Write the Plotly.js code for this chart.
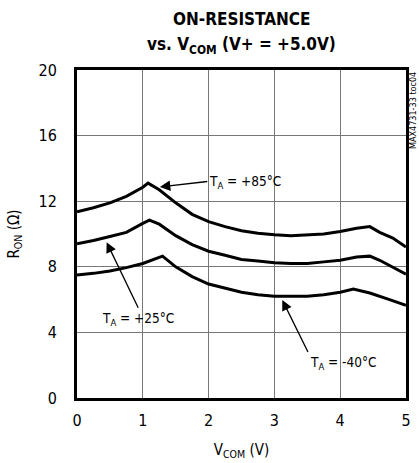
<!DOCTYPE html>
<html><head><meta charset="utf-8">
<script src="https://cdn.plot.ly/plotly-3.0.1.min.js"></script>
<style>body{margin:0;background:#fff}#chart{width:419px;height:463px}</style>
</head><body><div id="chart"></div>
<script>
const vcom85 = [0, 0.25, 0.5, 0.75, 1.0, 1.08, 1.25, 1.5, 1.75, 2.0, 2.25, 2.5, 2.75, 3.0, 3.25, 3.5, 3.75, 4.0, 4.25, 4.45, 4.6, 4.8, 5.0];
const ron85  = [11.35, 11.6, 11.9, 12.3, 12.85, 13.1, 12.7, 11.9, 11.2, 10.75, 10.45, 10.2, 10.05, 9.95, 9.9, 9.95, 10.0, 10.15, 10.35, 10.45, 10.1, 9.75, 9.2];
const vcom25 = [0, 0.25, 0.5, 0.75, 1.0, 1.1, 1.25, 1.5, 1.75, 2.0, 2.25, 2.5, 2.75, 3.0, 3.25, 3.5, 3.75, 4.0, 4.25, 4.45, 4.6, 4.8, 5.0];
const ron25  = [9.4, 9.6, 9.85, 10.1, 10.65, 10.85, 10.6, 9.9, 9.35, 8.95, 8.7, 8.45, 8.35, 8.25, 8.2, 8.2, 8.3, 8.4, 8.6, 8.65, 8.4, 8.0, 7.55];
const vcomM40 = [0, 0.25, 0.5, 0.75, 1.0, 1.25, 1.3, 1.5, 1.75, 2.0, 2.25, 2.5, 2.75, 3.0, 3.25, 3.5, 3.75, 4.0, 4.2, 4.45, 4.75, 5.0];
const ronM40  = [7.5, 7.6, 7.75, 7.95, 8.2, 8.55, 8.65, 8.0, 7.4, 6.95, 6.7, 6.45, 6.3, 6.2, 6.2, 6.2, 6.3, 6.45, 6.65, 6.4, 6.0, 5.65];
const xTicks = [0, 1, 2, 3, 4, 5];
const yTicks = [0, 4, 8, 12, 16, 20];
const labels = ['T<sub>A</sub> = +85°C', 'T<sub>A</sub> = +25°C', 'T<sub>A</sub> = -40°C'];
const titleLines = ['<b>ON-RESISTANCE</b>', '<b>vs. V<sub>COM</sub> (V+ = +5.0V)</b>'];

const F = 'DejaVu Sans Condensed, Liberation Sans, sans-serif';
const line = {color: '#000', width: 3};
const traces = [
  {x: vcom85, y: ron85, mode: 'lines', line: line, showlegend: false},
  {x: vcom25, y: ron25, mode: 'lines', line: line, showlegend: false},
  {x: vcomM40, y: ronM40, mode: 'lines', line: line, showlegend: false}
];
const ann = (text, x, y, ax, ay, xanchor, yanchor) => ({
  x: x, y: y, ax: ax, ay: ay, axref: 'x', ayref: 'y', xref: 'x', yref: 'y',
  text: text, showarrow: true, arrowhead: 2, arrowsize: 1.6, arrowwidth: 1.3, arrowcolor: '#000',
  xanchor: xanchor, yanchor: yanchor, standoff: 0, startstandoff: 0,
  font: {family: F, size: 13.5, color: '#000'}
});
const layout = {
  width: 419, height: 463,
  margin: {l: 77, r: 13, t: 70, b: 65},
  paper_bgcolor: '#fff', plot_bgcolor: '#fff',
  font: {family: F, size: 16, color: '#000'},
  xaxis: {range: [0, 5], tickvals: xTicks, ticks: '', showgrid: true, gridcolor: '#777', gridwidth: 1,
          zeroline: false, showline: true, linecolor: '#000', linewidth: 3, mirror: true, ticklabelstandoff: 6,
          title: {text: 'V<sub>COM</sub> (V)', standoff: 16, font: {family: F, size: 15}}},
  yaxis: {range: [0, 20], tickvals: yTicks, ticks: '', showgrid: true, gridcolor: '#777', gridwidth: 1,
          zeroline: false, showline: true, linecolor: '#000', linewidth: 3, mirror: true, ticklabelstandoff: 14,
          title: {text: 'R<sub>ON</sub> (Ω)', standoff: 16, font: {family: F, size: 15}}},
  annotations: [
    ann(labels[0], 1.26, 12.87, 1.98, 13.2, 'left', 'middle'),
    ann(labels[1], 0.45, 9.5, 0.93, 5.5, 'center', 'top'),
    ann(labels[2], 3.12, 5.98, 3.51, 2.8, 'left', 'top'),
    {xref: 'paper', yref: 'paper', x: 1.02, y: 1.0, xanchor: 'center', yanchor: 'top', textangle: -90,
     text: 'MAX4731-33 toc04', showarrow: false, font: {family: F, size: 9, color: '#000'}},
    {xref: 'paper', yref: 'paper', x: 0.5, y: 1.0, yshift: 51, xanchor: 'center', yanchor: 'middle',
     text: titleLines[0], showarrow: false, font: {family: F, size: 17, color: '#000'}},
    {xref: 'paper', yref: 'paper', x: 0.5, y: 1.0, yshift: 25, xanchor: 'center', yanchor: 'middle',
     text: titleLines[1], showarrow: false, font: {family: F, size: 17, color: '#000'}}
  ]
};
Plotly.newPlot('chart', traces, layout, {displayModeBar: false, staticPlot: true});
</script></body></html>
